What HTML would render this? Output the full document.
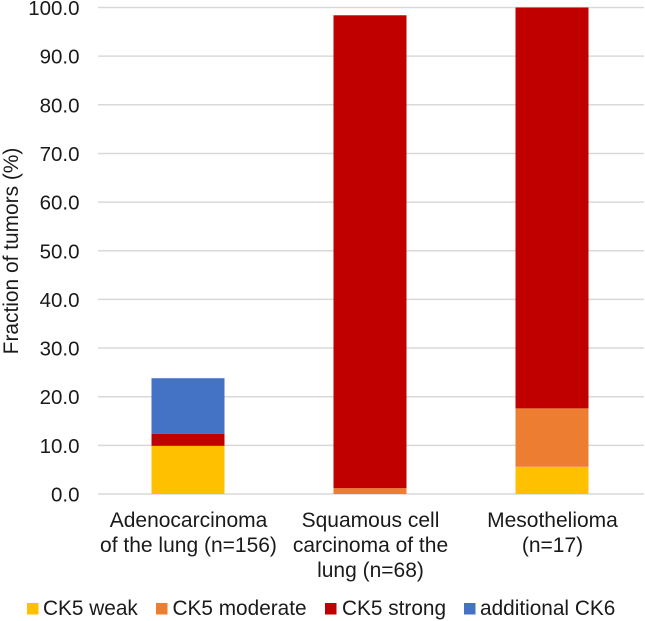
<!DOCTYPE html>
<html>
<head>
<meta charset="utf-8">
<style>
html,body{margin:0;padding:0;background:#fff;}
svg{display:block;}
text{font-family:"Liberation Sans",Arial,sans-serif;fill:#1a1a1a;}
</style>
</head>
<body>
<svg id="chart" xmlns="http://www.w3.org/2000/svg" width="645" height="621" viewBox="0 0 645 621"></svg>
<script>
const categories = [
  ["Adenocarcinoma", "of the lung (n=156)"],
  ["Squamous cell", "carcinoma of the", "lung (n=68)"],
  ["Mesothelioma", "(n=17)"]
];
const seriesNames = ["CK5 weak", "CK5 moderate", "CK5 strong", "additional CK6"];
const ck5Weak = [9.9, 0, 5.6];
const ck5Moderate = [0, 1.2, 12.0];
const ck5Strong = [2.5, 97.2, 82.4];
const additionalCk6 = [11.4, 0, 0];
const yTicks = [0, 10, 20, 30, 40, 50, 60, 70, 80, 90, 100];
const seriesColors = ["#ffc000", "#ed7d31", "#c00000", "#4472c4"];

const seriesValues = [ck5Weak, ck5Moderate, ck5Strong, additionalCk6];
const svg = document.getElementById('chart');
const NS = 'http://www.w3.org/2000/svg';
const left = 98, right = 644, y0 = 494, y100 = 7.5, yMax = 100;
const bandW = (right - left) / categories.length;
const barW = 73;
const yScale = v => y0 - (v / yMax) * (y0 - y100);
const xBand = i => left + bandW * (i + 0.5) - 1;
function make(tag, attrs, txt) {
  const el = document.createElementNS(NS, tag);
  for (const k in attrs) el.setAttribute(k, attrs[k]);
  if (txt !== undefined) el.textContent = txt;
  svg.appendChild(el);
  return el;
}

yTicks.forEach(t => {
  const line = make('line', {x1: left, x2: right, y1: yScale(t), y2: yScale(t), stroke: '#d9d9d9', 'stroke-width': 1.5});
  
  
  const label = make('text', {x: 79.5, y: yScale(t) + 7.5, 'text-anchor': 'end', 'font-size': 20.5}, t.toFixed(1));
  
  
});

categories.forEach((cat, i) => {
  let acc = 0;
  seriesValues.forEach((vals, s) => {
    const v = vals[i];
    if (v > 0) {
      const top = yScale(acc + v);
      const rect = make('rect', {x: xBand(i) - barW / 2, y: top, width: barW, height: yScale(acc) - top, fill: seriesColors[s]});
      
      
    }
    acc += v;
  });
  cat.forEach((line, j) => {
    const label = make('text', {x: xBand(i) + 0.5, y: 527 + j * 25, 'text-anchor': 'middle', 'font-size': 21}, line);
    
    
  });
});

const yTitle = make('text', {x: 0, y: 0, transform: 'translate(18,251) rotate(-90)', 'text-anchor': 'middle', 'font-size': 20.9}, 'Fraction of tumors (%)');



const legendSwatchX = [27, 156, 325, 464];
const legendTextX = [43, 172.5, 342, 480];
seriesNames.forEach((name, s) => {
  const sw = make('rect', {x: legendSwatchX[s], y: 603, width: 11.5, height: 11.5, fill: seriesColors[s]});
  
  
  const tx = make('text', {x: legendTextX[s], y: 615, 'font-size': 20.8}, name);
  
  
});
</script>
</body>
</html>
